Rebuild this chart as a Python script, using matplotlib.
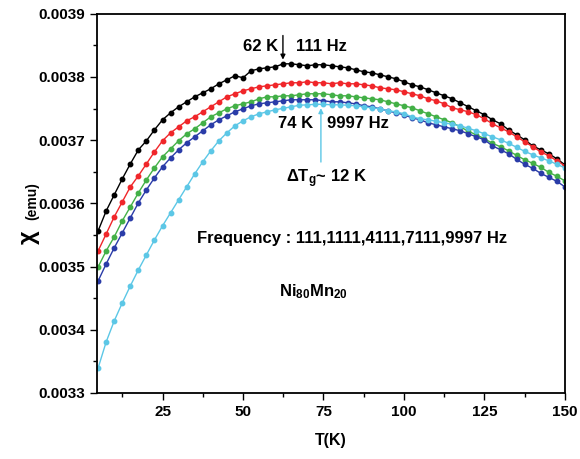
import numpy as np
import matplotlib
matplotlib.use("Agg")
import matplotlib.pyplot as plt
from matplotlib.ticker import MultipleLocator, FormatStrFormatter

plt.rcParams["font.family"] = ["Liberation Sans", "DejaVu Sans"]
plt.rcParams["font.weight"] = "bold"
plt.rcParams["mathtext.fontset"] = "custom"
plt.rcParams["mathtext.rm"] = "Liberation Sans:bold"
plt.rcParams["mathtext.bf"] = "Liberation Sans:bold"
plt.rcParams["mathtext.it"] = "Liberation Sans:bold:italic"
plt.rcParams["mathtext.default"] = "rm"

# temperature grid (K)
temps = np.arange(5, 150.1, 2.5)

# susceptibility in micro-emu
chi_111 = [3556.5, 3588.1, 3613.5, 3638.8, 3662.5, 3684.7, 3699.0, 3716.4, 3732.2, 3743.3,
           3752.8, 3760.7, 3768.6, 3774.9, 3781.3, 3789.2, 3795.5, 3801.9, 3798.7, 3809.8,
           3812.9, 3814.5, 3816.1, 3820.8, 3820.8, 3819.3, 3817.7, 3819.3, 3819.3, 3817.7,
           3816.1, 3814.5, 3811.4, 3808.2, 3806.6, 3803.4, 3800.3, 3797.1, 3792.4, 3787.6,
           3784.4, 3779.7, 3774.9, 3770.2, 3765.4, 3759.1, 3752.8, 3746.4, 3740.1, 3732.2,
           3725.9, 3716.4, 3708.5, 3700.5, 3691.0, 3684.7, 3678.4, 3670.5, 3661.0]
chi_1111 = [3524.8, 3551.7, 3578.7, 3602.4, 3626.1, 3643.6, 3662.5, 3681.5, 3699.0, 3711.6,
            3721.1, 3730.6, 3737.0, 3744.9, 3752.8, 3760.7, 3768.6, 3773.4, 3778.1, 3781.3,
            3784.4, 3786.0, 3787.6, 3789.2, 3790.8, 3790.8, 3792.4, 3790.8, 3790.8, 3789.2,
            3790.8, 3789.2, 3789.2, 3787.6, 3786.0, 3782.9, 3781.3, 3779.7, 3776.5, 3773.4,
            3770.2, 3765.4, 3762.3, 3757.5, 3751.2, 3748.0, 3744.9, 3740.1, 3733.8, 3725.9,
            3719.5, 3713.2, 3705.3, 3697.4, 3689.5, 3681.5, 3675.2, 3667.3, 3659.4]
chi_4111 = [3499.5, 3524.8, 3547.0, 3572.3, 3594.5, 3616.6, 3637.2, 3656.2, 3673.6, 3686.3,
            3699.0, 3710.0, 3718.0, 3727.5, 3737.0, 3743.3, 3749.6, 3754.4, 3757.5, 3760.7,
            3765.4, 3768.6, 3768.6, 3770.2, 3770.2, 3771.8, 3773.4, 3773.4, 3773.4, 3771.8,
            3770.2, 3770.2, 3768.6, 3767.0, 3765.4, 3763.9, 3760.7, 3757.5, 3754.4, 3751.2,
            3746.4, 3741.7, 3737.0, 3732.2, 3727.5, 3721.1, 3714.0, 3708.5, 3702.1, 3695.0,
            3689.5, 3683.1, 3676.0, 3668.9, 3663.3, 3657.0, 3649.1, 3642.8, 3635.6]
chi_7111 = [3477.3, 3504.2, 3529.6, 3553.3, 3577.1, 3600.8, 3621.4, 3640.4, 3657.8, 3672.0,
            3684.7, 3695.8, 3705.3, 3714.8, 3724.3, 3732.2, 3738.5, 3744.9, 3749.6, 3754.4,
            3757.5, 3759.1, 3760.7, 3762.3, 3763.9, 3763.9, 3763.9, 3763.9, 3762.3, 3760.7,
            3760.7, 3759.1, 3757.5, 3754.4, 3752.8, 3749.6, 3746.4, 3743.3, 3740.1, 3735.4,
            3732.2, 3727.5, 3724.3, 3721.1, 3718.0, 3714.8, 3710.0, 3705.3, 3700.5, 3691.0,
            3684.7, 3678.4, 3669.7, 3661.8, 3655.4, 3647.5, 3641.2, 3634.8, 3626.1]
chi_9997 = [3339.6, 3380.8, 3414.0, 3442.5, 3469.4, 3494.8, 3518.5, 3542.2, 3564.4, 3585.0,
            3605.6, 3626.1, 3646.7, 3665.7, 3683.1, 3699.0, 3711.6, 3722.7, 3730.6, 3737.0,
            3741.7, 3744.9, 3748.0, 3750.4, 3752.8, 3755.2, 3755.9, 3756.7, 3756.7, 3755.9,
            3755.9, 3755.2, 3754.4, 3752.8, 3751.2, 3749.6, 3746.4, 3744.9, 3741.7, 3737.0,
            3733.8, 3732.2, 3729.8, 3727.5, 3725.1, 3722.7, 3718.7, 3714.8, 3710.0, 3705.3,
            3700.5, 3695.0, 3688.7, 3682.3, 3676.8, 3672.0, 3667.3, 3661.8, 3656.2]

series = [
    (chi_111, "#000000"),
    (chi_1111, "#f0262a"),
    (chi_4111, "#43b047"),
    (chi_7111, "#2a3ca8"),
    (chi_9997, "#5cc7e6"),
]

fig = plt.figure(figsize=(5.8, 4.59), dpi=100)
ax = fig.add_axes([0.167, 0.144, 0.807, 0.826])

for vals, col in series:
    ax.plot(temps, np.array(vals) * 1e-6, "-o", color=col, lw=1.0, ms=3.2, mec=col)

ax.set_xlim(4.6, 150)
ax.set_ylim(0.0033, 0.0039)
ax.xaxis.set_major_locator(MultipleLocator(25))
ax.xaxis.set_minor_locator(MultipleLocator(12.5))
ax.yaxis.set_major_locator(MultipleLocator(0.0001))
ax.yaxis.set_minor_locator(MultipleLocator(0.00005))
ax.yaxis.set_major_formatter(FormatStrFormatter("%.4f"))
ax.tick_params(which="major", direction="out", length=5, width=1, labelsize=11)
ax.tick_params(which="minor", direction="out", length=3, width=1)
for s in ax.spines.values():
    s.set_linewidth(1.3)

ax.set_xlabel("T(K)", fontsize=11.5, fontweight="bold", labelpad=10)
ax.text(-0.141, 0.41, r"$\chi$", transform=ax.transAxes, rotation=90,
        fontsize=17, ha="center", va="center")
ax.text(-0.138, 0.505, "(emu)", transform=ax.transAxes, rotation=90,
        fontsize=10, fontweight="bold", ha="center", va="center")

# annotations
ax.annotate("", xy=(62.4, 0.003823), xytext=(62.4, 0.003870),
            arrowprops=dict(arrowstyle="-|>", color="black", lw=1, mutation_scale=7))
ax.text(55.3, 0.003848, "62 K", fontsize=12, fontweight="bold", ha="center", va="center")
ax.text(74.5, 0.003848, "111 Hz", fontsize=12, fontweight="bold", ha="center", va="center")

ax.annotate("", xy=(74.2, 0.003755), xytext=(74.2, 0.003661),
            arrowprops=dict(arrowstyle="-|>", color="#5cc7e6", lw=1, mutation_scale=7))
ax.text(66.4, 0.003727, "74 K", fontsize=12, fontweight="bold", ha="center", va="center")
ax.text(85.7, 0.003727, "9997 Hz", fontsize=12, fontweight="bold", ha="center", va="center")
ax.text(76.1, 0.003639, r"ΔT$_{g}$~ 12 K", fontsize=12, fontweight="bold",
        ha="center", va="center")

ax.text(83.8, 0.003544, "Frequency : 111,1111,4111,7111,9997 Hz", fontsize=12,
        fontweight="bold", ha="center", va="center")
ax.text(72.0, 0.003460, r"Ni$_{80}$Mn$_{20}$", fontsize=12, fontweight="bold",
        ha="center", va="center")

fig.savefig("out.png", dpi=100)
